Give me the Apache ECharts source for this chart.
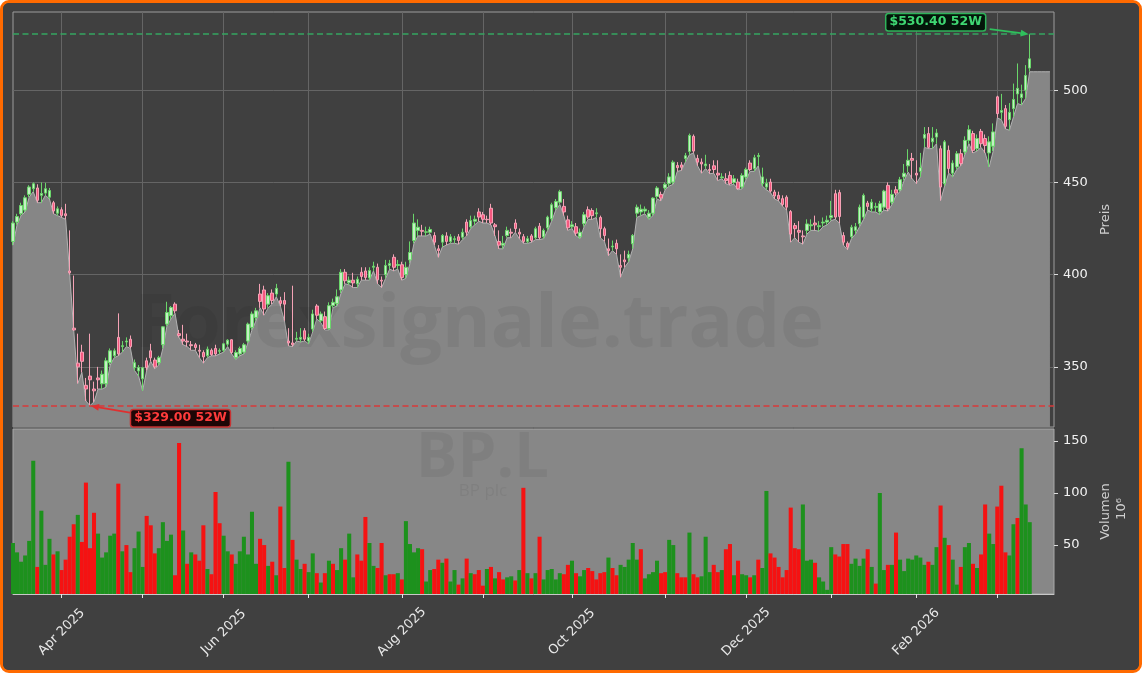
<!DOCTYPE html>
<html>
<head>
<meta charset="utf-8">
<script src="https://cdn.jsdelivr.net/npm/echarts@6/dist/echarts.min.js"></script>
<style>
  html, body { margin: 0; padding: 0; background: #ffffff; }
  #box {
    position: absolute; left: 0; top: 0;
    width: 1136px; height: 667px;
    border: 3px solid #ff6a00; border-radius: 9px;
    background: #404040; overflow: hidden;
  }
  #chart { width: 1136px; height: 667px; }
</style>
</head>
<body>
<div id="box"><div id="chart"></div></div>
<script>
  // Kalender (Handelstage London)
  var startDate = '2025-03-14'
  var slotCount = 258
  var holidays = ['2025-04-18', '2025-04-21', '2025-05-05', '2025-05-26', '2025-08-25', '2025-12-25', '2025-12-26', '2026-01-01']
  var monthNames = ['Jan', 'Feb', 'Mar', 'Apr', 'May', 'Jun', 'Jul', 'Aug', 'Sep', 'Oct', 'Nov', 'Dec']

  // Kurse
  var opens = [
    418, 428.5, 433, 435, 443.5, 446.6, 447, 443, 444.2, 442,
    439, 433.3, 435.2, 433, 402, 371, 352, 358, 340, 345,
    338, 344, 340.8, 340.8, 352.3, 356, 366, 361, 363.5, 365,
    349.6, 347.8, 343.5, 353.3, 358.7, 353.7, 352.3, 362, 373.2, 377.7,
    384, 368, 365, 364, 362, 362, 359, 357.8, 356, 359,
    360, 358.5, 359, 362.3, 364.7, 355, 357, 358, 364, 371.4,
    376.8, 389.5, 391.7, 384, 390, 389.5, 385.9, 386, 364, 363,
    365, 365, 369.6, 364, 370.5, 383, 375, 377.2, 370.8, 383.2,
    384.4, 391.7, 401.3, 395.6, 397, 395, 401.3, 402, 398.2, 404,
    404, 397, 400, 405, 409.4, 405, 405.4, 400, 408, 418.5,
    424, 424, 423, 423, 421.2, 414, 417.6, 421, 418, 419,
    420.5, 420.3, 428.5, 426, 429, 434, 432.5, 430, 436, 427,
    418, 416, 421.2, 423, 428, 423, 420.6, 418, 421, 420,
    426.3, 420.5, 425.4, 430.3, 436.3, 439.3, 437, 429.7, 426, 426,
    420.5, 427.6, 435.2, 434.8, 433, 431, 424.9, 414, 415, 417,
    405, 408, 409, 416.7, 433.3, 434, 434.5, 431.2, 433.3, 442.4,
    443.5, 447, 449.3, 450.2, 459.2, 459.5, 463, 466.8, 475, 463,
    461, 459, 457, 459, 455, 452.5, 452, 453.8, 450, 450.2,
    447.5, 452.9, 460.5, 457.5, 464, 449.3, 447.5, 450.2, 444.8, 443,
    441.2, 442, 434.2, 426.6, 424, 421, 424, 426.5, 428, 426,
    428, 428.5, 431, 443.9, 444.5, 421.2, 417, 420.7, 424, 427.6,
    431.2, 438.8, 435.7, 436.5, 434, 436.6, 448.4, 439.3, 446, 446,
    453, 459, 463, 455, 456, 474, 476.5, 472, 474.6, 468.3,
    449.3, 467.4, 455, 458.4, 465.6, 466.5, 472.8, 476.5, 468.3, 477.7,
    473.8, 466, 469.6, 496.4, 488, 490, 484, 490, 498, 496,
    500, 512
  ]
  var closes = [
    428, 431.5, 437.5, 441.7, 447.5, 449.3, 440.3, 444, 446.6, 445.6,
    434.5, 435.7, 432.1, 432, 401, 370, 350, 353, 338, 343,
    337, 343, 346, 353.3, 358.7, 358.7, 357, 361.5, 364, 361,
    352.3, 349.6, 349.5, 349.6, 354.9, 350, 355, 371.7, 379.5, 382.2,
    380.4, 367, 364, 363.5, 361.5, 360.5, 358.5, 355.4, 359.6, 356.6,
    357, 358.8, 362.5, 364.5, 357.8, 357.8, 360, 362, 373.2, 378.7,
    380.4, 385.5, 381.4, 388.6, 386, 392.6, 384.4, 384, 363, 362,
    365.5, 366, 365, 366, 378.7, 378, 378.7, 370.8, 383.2, 385,
    388, 401.3, 396.7, 397, 395.5, 397.5, 399, 398.5, 402.2, 404.6,
    397.2, 396.5, 405, 406, 404, 405.5, 398.5, 404, 412, 428,
    425.7, 423.5, 423.2, 424.5, 417.6, 413, 421.2, 418, 420.5, 419.5,
    418.5, 423, 423, 429.3, 430, 431.2, 430, 429.8, 428, 426,
    416, 417, 424, 422.5, 425, 422, 418, 419.5, 418.5, 424.9,
    420, 424, 431.2, 437.9, 439.7, 445, 434, 425.4, 427, 422.5,
    423, 432.5, 431.2, 432, 433.5, 424.9, 421.2, 413, 415.5, 414,
    404, 407, 411, 421.2, 436.6, 435.5, 435.5, 433.3, 441.5, 447,
    441.5, 449, 453, 461, 458, 458.2, 464.5, 475.5, 467, 461,
    460, 460, 456.5, 457, 454, 453, 451, 449.3, 452, 446.6,
    453.8, 457, 457, 463.4, 464.6, 453, 449.5, 445.3, 442.6, 441,
    438, 436.6, 422, 424.9, 423, 420.5, 427.5, 427, 427, 426.5,
    428.5, 429.5, 432, 431.2, 431.5, 417.6, 414.9, 425.7, 426, 436.6,
    443, 437, 439.3, 437, 438.5, 445.3, 435.7, 443.5, 444.2, 451.5,
    455, 462, 462, 454, 458, 476, 469, 474, 476.8, 447.5,
    472, 457.5, 460.5, 465.6, 460.2, 472.8, 478.6, 467.4, 473.8, 471,
    470, 472, 477.4, 487.3, 489, 480.4, 488, 495, 501, 498,
    508, 517
  ]
  var lows = [
    416, 427, 432, 434, 442, 445, 439, 439, 443, 441,
    433, 432, 431, 430, 400, 369.6, 341, 347, 331.5, 329,
    331, 338, 338, 339, 351, 355, 356, 358, 361, 360,
    348, 345, 337, 348, 353, 349, 351, 360, 372, 376,
    379, 366, 362, 361, 359, 359, 355, 352, 355, 356,
    356, 357, 358, 361, 357, 354, 356, 357, 363, 370,
    375, 382, 378, 382, 384, 388, 383, 375, 361.4, 361,
    364, 363.5, 364, 362.5, 369, 376, 374, 370, 370, 382,
    383, 390, 395, 394.5, 393, 393, 397, 397, 397, 402,
    395, 393, 398, 403, 402, 403, 397, 398, 406, 417,
    421, 421, 421, 422, 416, 409.4, 415, 416, 417, 417,
    416.5, 419, 421, 425, 427, 429, 428, 428, 427, 421,
    414, 414, 420, 420, 423, 419.5, 417, 417, 417.5, 419,
    419, 419.5, 424, 429, 435, 438, 432, 424, 425, 421,
    419.5, 426, 430, 430, 431, 420, 418, 410.3, 413, 411,
    398.6, 404, 407, 414, 431, 432, 433, 430, 432, 441,
    440, 446, 448, 449, 456, 456.5, 461, 465, 466, 459,
    455, 457.5, 454.7, 455, 451, 452, 449.3, 448.5, 449, 446,
    446.5, 451.5, 456, 456, 459, 448, 446, 444.5, 441, 440,
    437, 435, 417.6, 420, 417.6, 416.5, 422, 424, 424, 423.5,
    426, 427, 429.3, 430, 428, 416, 413.5, 419.5, 422, 426,
    430, 435, 434, 434, 432.5, 435, 434.5, 438, 443, 445,
    451, 455.6, 452, 449.3, 453, 469, 468.3, 468.3, 471, 440.2,
    448, 455, 453, 457, 459, 465, 471, 466, 467, 469,
    466, 458.4, 467, 485, 484, 479, 478.3, 485.5, 492.8, 492,
    495.5, 510
  ]
  var highs = [
    429, 433, 439, 443, 448.5, 450, 449, 450, 449.8, 447,
    440, 437, 436.5, 438.4, 424, 399.5, 368, 362, 344, 368,
    342, 350, 348, 355, 360, 360, 379, 364, 366, 367,
    354, 351, 350, 355, 362.5, 355, 356, 372, 385.3, 383,
    385, 370, 372.8, 368, 364, 363, 362, 359, 361, 360,
    362, 360, 363, 365, 365, 359, 361, 363, 374, 380,
    382, 395, 394, 390, 392, 395, 388, 390.5, 371, 394,
    369, 371, 371, 368, 381, 384, 380, 380, 385, 387,
    392, 403, 403, 399, 401, 399, 404, 404, 404, 407,
    406, 399, 408, 408, 411, 408, 407, 407, 418, 433,
    430, 427, 426, 426, 423, 416, 422, 423, 422, 421,
    422, 425, 430, 432, 432, 436, 434, 432, 438.4, 428,
    424, 421, 426, 425, 430, 425, 422, 421, 422, 426,
    428, 425, 432, 439, 441, 446, 441, 432, 429, 428,
    425, 434, 437, 436, 436, 432, 426, 419.6, 418.5, 419,
    411, 413, 413, 422, 438, 438, 437, 435, 442, 448,
    445, 450, 455, 462, 461, 461, 466, 476.5, 476, 465,
    463, 465, 460, 462, 462, 455, 455, 456, 454, 452,
    455, 458, 462, 465, 466, 458, 452, 452, 446, 445,
    443, 443, 435, 428, 429, 424, 430, 430, 432, 429,
    431, 432, 440, 446, 446, 423, 418, 427, 428, 438,
    444, 440, 441, 439, 440, 446, 450, 446, 448, 453,
    460, 468, 466, 462, 466, 480, 480, 480, 479, 470,
    473, 470, 462, 467, 468, 475, 481, 478, 476, 479,
    476, 475, 482, 497, 498, 492, 493, 503.6, 514.5, 503,
    513.6, 530.4
  ]
  // Tief-Linie läuft nach der letzten Kerze noch weiter
  var lowTail = [510, 510, 510, 510, 510]

  // Volumen in Mio.
  var volumes = [
    52, 43, 34, 40, 54, 131, 29, 83, 31, 56,
    41, 44, 26, 36, 58, 70, 79, 53, 110, 47,
    81, 61, 38, 43, 59, 61, 109, 44, 50, 24,
    47, 63, 29, 78, 69, 42, 47, 72, 54, 60,
    21, 148, 64, 32, 43, 41, 35, 69, 27, 22,
    101, 71, 59, 44, 41, 32, 44, 58, 41, 82,
    32, 56, 50, 30, 34, 21, 87, 28, 130, 55,
    36, 27, 32, 24, 42, 23, 14, 23, 35, 32,
    26, 47, 36, 61, 19, 41, 35, 77, 52, 30,
    28, 52, 21, 22, 22, 23, 17, 73, 51, 43,
    47, 46, 15, 26, 27, 36, 33, 37, 15, 26,
    12, 18, 37, 23, 22, 26, 11, 27, 29, 18,
    24, 17, 19, 20, 16, 26, 105, 23, 18, 23,
    58, 17, 26, 27, 17, 23, 22, 31, 35, 23,
    20, 26, 28, 25, 17, 23, 24, 38, 28, 21,
    31, 29, 36, 52, 36, 46, 18, 22, 24, 35,
    23, 24, 55, 50, 23, 19, 19, 62, 22, 19,
    20, 58, 24, 31, 24, 26, 46, 51, 21, 35,
    22, 21, 19, 21, 36, 28, 102, 42, 38, 29,
    19, 26, 86, 47, 46, 89, 35, 36, 33, 19,
    15, 7, 48, 41, 39, 51, 51, 32, 37, 30,
    37, 46, 29, 13, 100, 26, 31, 31, 62, 36,
    25, 37, 36, 40, 38, 31, 34, 31, 48, 88,
    57, 50, 36, 12, 29, 48, 52, 32, 28, 41,
    89, 61, 51, 87, 107, 43, 40, 70, 76, 143,
    89, 72
  ]
  // 1 = grün, 0 = rot
  var volUp = [
    1, 1, 1, 1, 1, 1, 0, 1, 1, 1,
    0, 1, 0, 0, 0, 0, 1, 0, 0, 0,
    0, 1, 1, 1, 1, 1, 0, 1, 0, 0,
    1, 1, 1, 0, 0, 0, 1, 1, 1, 1,
    0, 0, 1, 0, 1, 0, 0, 0, 1, 0,
    0, 0, 1, 1, 0, 1, 1, 1, 1, 1,
    1, 0, 0, 1, 0, 1, 0, 0, 1, 0,
    1, 1, 0, 1, 1, 0, 1, 0, 1, 0,
    1, 1, 0, 1, 1, 0, 0, 0, 1, 1,
    0, 0, 1, 0, 0, 1, 0, 1, 1, 1,
    1, 0, 1, 1, 0, 0, 1, 0, 1, 1,
    0, 1, 0, 1, 0, 0, 0, 1, 0, 1,
    0, 0, 1, 1, 0, 1, 0, 1, 0, 1,
    0, 1, 1, 1, 1, 1, 0, 0, 1, 0,
    1, 1, 0, 0, 0, 0, 0, 1, 0, 0,
    1, 1, 1, 1, 1, 0, 1, 1, 1, 1,
    0, 0, 1, 1, 0, 0, 0, 1, 0, 0,
    1, 1, 1, 0, 0, 1, 0, 0, 1, 0,
    1, 1, 0, 1, 0, 1, 1, 0, 0, 0,
    0, 0, 0, 0, 0, 1, 1, 1, 0, 1,
    1, 1, 1, 0, 0, 0, 0, 1, 1, 1,
    1, 0, 1, 0, 1, 1, 0, 1, 0, 1,
    1, 1, 1, 1, 1, 1, 0, 1, 1, 0,
    1, 0, 1, 1, 0, 1, 1, 0, 1, 0,
    0, 1, 1, 0, 0, 0, 1, 1, 0, 1,
    1, 1
  ]

  // Achsen
  var priceTicks = [350, 400, 450, 500]
  var volTicks = [50, 100, 150]

  function tradingDays(start, count) {
    var out = []
    var d = new Date(start + 'T00:00:00Z')
    while (out.length < count) {
      var s = d.toISOString().slice(0, 10)
      var wd = d.getUTCDay()
      if (wd !== 0 && wd !== 6 && holidays.indexOf(s) < 0) out.push(s)
      d.setUTCDate(d.getUTCDate() + 1)
    }
    return out
  }
  var dates = tradingDays(startDate, slotCount)
  function monthStart(i) {
    return i > 0 && dates[i].slice(5, 7) !== dates[i - 1].slice(5, 7)
  }
  function evenMonthStart(i) {
    return monthStart(i) && (+dates[i].slice(5, 7)) % 2 === 0
  }

  var candles = opens.map(function(o, i) { return [o, closes[i], lows[i], highs[i]] })
  var lowLine = lows.concat(lowTail)
  var volData = volumes.map(function(v, i) {
    return { value: v, itemStyle: { color: volUp[i] ? '#1d911d' : '#f51212' } }
  })
  var maxHigh = Math.max.apply(null, highs)
  var minLow = Math.min.apply(null, lows)

  var chart = echarts.init(document.getElementById('chart'))
  var axisFont = 'DejaVu Sans'
  var option = {
    backgroundColor: '#404040',
    animation: false,
    textStyle: { fontFamily: axisFont },
    grid: [
      { left: 10, right: 85, top: 9, height: 415, show: true, borderColor: '#9c9c9c', borderWidth: 1, backgroundColor: 'transparent', outerBoundsMode: 'none' },
      { left: 10, right: 85, top: 426, height: 165, show: true, borderColor: '#a8a8a8', borderWidth: 1, backgroundColor: '#878787', outerBoundsMode: 'none' }
    ],
    xAxis: [
      {
        type: 'category', gridIndex: 0, data: dates, boundaryGap: false,
        axisLine: { show: false }, axisTick: { show: false }, axisLabel: { show: false },
        splitLine: { show: true, interval: monthStart, lineStyle: { color: '#656565', width: 1 } }
      },
      {
        type: 'category', gridIndex: 1, data: dates, boundaryGap: false,
        axisLine: { show: true, lineStyle: { color: '#c8c8c8' } },
        axisTick: { show: true, interval: monthStart, length: 4, lineStyle: { color: '#e6e6e6' } },
        axisLabel: {
          interval: evenMonthStart, rotate: 45, align: 'center', verticalAlign: 'middle', margin: 38,
          color: '#e8e8e8', fontSize: 13, fontFamily: axisFont,
          formatter: function(v) { return monthNames[+v.slice(5, 7) - 1] + ' ' + v.slice(0, 4) }
        },
        splitLine: { show: false }
      }
    ],
    yAxis: [
      {
        type: 'value', gridIndex: 0, position: 'right', min: 317.4, max: 542.4, scale: true,
        axisLine: { show: false },
        axisTick: { show: true, length: 4, customValues: priceTicks, lineStyle: { color: '#dcdcdc' } },
        axisLabel: { customValues: priceTicks, color: '#f2f2f2', fontSize: 13, margin: 9, fontFamily: axisFont },
        splitLine: { show: true, lineStyle: { color: '#656565' } },
        name: 'Preis', nameLocation: 'middle', nameRotate: 90, nameGap: 41,
        nameTextStyle: { color: '#cfcfcf', fontSize: 13, fontFamily: axisFont }
      },
      {
        type: 'value', gridIndex: 1, position: 'right', min: 3, max: 161.5,
        axisLine: { show: false },
        axisTick: { show: true, length: 4, customValues: volTicks, lineStyle: { color: '#dcdcdc' } },
        axisLabel: { customValues: volTicks, color: '#f2f2f2', fontSize: 13, margin: 9, fontFamily: axisFont },
        splitLine: { show: false },
        name: 'Volumen', nameLocation: 'middle', nameRotate: 90, nameGap: 36,
        nameTextStyle: { color: '#cfcfcf', fontSize: 13, fontFamily: axisFont }
      }
    ],
    series: [
      {
        name: 'Tief', type: 'line', xAxisIndex: 0, yAxisIndex: 0, data: lowLine,
        symbol: 'none', silent: true, z: 1,
        lineStyle: { color: '#b2b2b2', width: 1 },
        areaStyle: { color: '#868686', opacity: 1, origin: 'start' }
      },
      {
        name: 'BP.L', type: 'candlestick', xAxisIndex: 0, yAxisIndex: 0, data: candles,
        barWidth: 3, z: 3, silent: true,
        itemStyle: {
          color: '#c4efc4', color0: '#f5587f',
          borderColor: '#6ad66a', borderColor0: '#f5a3b6', borderWidth: 1
        },
        markLine: {
          silent: true, symbol: 'none', label: { show: false },
          data: [
            { yAxis: maxHigh, lineStyle: { color: '#35a560', type: [6, 3.5], width: 1.5 } },
            { yAxis: minLow, lineStyle: { color: '#d83a3a', type: [6, 3.5], width: 1.5 } }
          ]
        }
      },
      {
        name: 'Volumen', type: 'bar', xAxisIndex: 1, yAxisIndex: 1, data: volData,
        barCategoryGap: '0%', z: 3, silent: true
      }
    ],
    graphic: [
      {
        type: 'text', z: 2, silent: true, x: 476, y: 323,
        style: { text: 'Forexsignale.trade', font: 'bold 74px "Open Sans"', fill: 'rgba(0,0,0,0.06)', align: 'center', verticalAlign: 'middle' }
      },
      {
        type: 'text', z: 2, silent: true, x: 479.5, y: 456.5,
        style: { text: 'BP.L', font: 'bold 62px "Open Sans"', fill: 'rgba(0,0,0,0.055)', align: 'center', verticalAlign: 'middle' }
      },
      {
        type: 'text', z: 2, silent: true, x: 480, y: 488,
        style: { text: 'BP plc', font: '17px "Open Sans"', fill: 'rgba(0,0,0,0.055)', align: 'center', verticalAlign: 'middle' }
      },
      {
        type: 'text', z: 5, silent: true, x: 1119, y: 506, rotation: Math.PI / 2,
        style: { text: '10⁶', font: '13px "DejaVu Sans"', fill: '#cfcfcf', align: 'center', verticalAlign: 'middle' }
      }
    ]
  }
  chart.setOption(option)

  // 52W-Markierungen
  function arrow(from, to, color) {
    var ang = Math.atan2(to[1] - from[1], to[0] - from[0])
    var L = 8, W = 3.5
    var bx = to[0] - L * Math.cos(ang), by = to[1] - L * Math.sin(ang)
    return [
      { type: 'line', z: 10, silent: true, shape: { x1: from[0], y1: from[1], x2: bx, y2: by }, style: { stroke: color, lineWidth: 1.8 } },
      { type: 'polygon', z: 10, silent: true, shape: { points: [to, [bx - W * Math.sin(ang), by + W * Math.cos(ang)], [bx + W * Math.sin(ang), by - W * Math.cos(ang)]] }, style: { fill: color } }
    ]
  }
  function badge(x, y, text, fg, bg, border) {
    return {
      type: 'text', z: 10, silent: true, x: x, y: y,
      style: {
        text: text, font: 'bold 12.5px "DejaVu Sans"', fill: fg, align: 'center', verticalAlign: 'middle',
        backgroundColor: bg, borderColor: border, borderWidth: 1.5, borderRadius: 2, padding: [2, 3, 1, 3]
      }
    }
  }
  var hiPt = chart.convertToPixel({ gridIndex: 0 }, [highs.indexOf(maxHigh), maxHigh])
  var loPt = chart.convertToPixel({ gridIndex: 0 }, [lows.indexOf(minLow), minLow])
  var extra = option.graphic.slice()
  extra.push(badge(hiPt[0] - 94, hiPt[1] - 12, '$' + maxHigh.toFixed(2) + ' 52W', '#3fd873', '#04160a', '#2fb35a'))
  extra = extra.concat(arrow([hiPt[0] - 40, hiPt[1] - 5], [hiPt[0] - 1, hiPt[1]], '#2fc05c'))
  extra.push(badge(loPt[0] + 90.5, loPt[1] + 12.6, '$' + minLow.toFixed(2) + ' 52W', '#ff3b3b', '#1e0606', '#c83232'))
  extra = extra.concat(arrow([loPt[0] + 40, loPt[1] + 7], [loPt[0] + 1, loPt[1] + 0.5], '#e03030'))
  chart.setOption({ graphic: extra })
</script>
</body>
</html>
